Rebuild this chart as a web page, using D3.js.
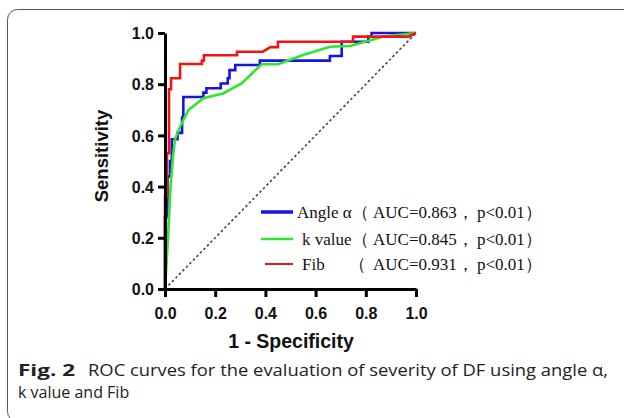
<!DOCTYPE html>
<html>
<head>
<meta charset="utf-8">
<style>
  body { margin: 0; background: #fff; }
  svg { display: block; }
  .tick-label { font-family: "Liberation Sans", Arial, sans-serif; font-weight: bold; font-size: 16px; fill: #111; }
  .axis-title { font-family: "Liberation Sans", Arial, sans-serif; font-weight: bold; fill: #111; }
  .legend text { font-family: "Liberation Serif", "Times New Roman", serif; font-size: 17px; fill: #111; }
  .caption { font-family: "Open Sans", "Noto Sans", sans-serif; font-size: 16px; fill: #222; }
</style>
</head>
<body>
<svg width="624" height="418"></svg>
<script src="https://cdn.jsdelivr.net/npm/d3@7/dist/d3.min.js"></script>
<script>
// ROC points [1 - specificity, sensitivity]
var angleRoc = [[0,0],[0,0.28],[0.01,0.28],[0.01,0.44],[0.02,0.44],[0.02,0.5],[0.027,0.5],[0.027,0.585],
  [0.05,0.585],[0.05,0.61],[0.068,0.61],[0.068,0.67],[0.073,0.67],[0.073,0.75],[0.153,0.75],[0.153,0.767],
  [0.165,0.767],[0.165,0.784],[0.222,0.784],[0.222,0.803],[0.25,0.803],[0.25,0.823],[0.257,0.823],[0.257,0.855],
  [0.28,0.855],[0.28,0.875],[0.378,0.875],[0.378,0.892],[0.657,0.892],[0.657,0.91],[0.704,0.91],[0.704,0.966],
  [0.81,0.966],[0.81,0.986],[0.823,0.986],[0.823,1],[1,1]];
var kValueRoc = [[0,0],[0.012,0.2],[0.022,0.4],[0.032,0.52],[0.04,0.585],[0.06,0.634],[0.093,0.699],
  [0.153,0.745],[0.231,0.764],[0.305,0.803],[0.385,0.878],[0.45,0.878],[0.55,0.914],[0.657,0.946],
  [0.737,0.949],[0.87,0.986],[0.988,0.999],[1,1]];
var fibRoc = [[0,0],[0,0.36],[0.008,0.36],[0.008,0.53],[0.016,0.53],[0.016,0.78],[0.024,0.78],[0.024,0.823],
  [0.06,0.823],[0.06,0.879],[0.147,0.879],[0.147,0.892],[0.155,0.892],[0.155,0.913],[0.287,0.913],[0.287,0.927],
  [0.39,0.927],[0.42,0.945],[0.45,0.945],[0.45,0.966],[0.749,0.966],[0.749,0.986],[0.97,0.986],[1,1]];
var xTicks = [0, 0.2, 0.4, 0.6, 0.8, 1.0];
var yTicks = [0, 0.2, 0.4, 0.6, 0.8, 1.0];
var seriesNames = ["Angle α", "k value", "Fib"];
var seriesAuc = ["0.863", "0.845", "0.931"];
var seriesP = ["p<0.01", "p<0.01", "p<0.01"];
var seriesColors = ["#1414e6", "#2ee62e", "#f01414"];

var svg = d3.select("svg");

// rounded frame of the figure panel
svg.append("rect")
  .attr("x", 7.5).attr("y", 9.5)
  .attr("width", 640).attr("height", 412)
  .attr("rx", 10)
  .attr("fill", "none").attr("stroke", "#555").attr("stroke-width", 1);

var x = d3.scaleLinear().domain([0, 1]).range([165, 416]);
var y = d3.scaleLinear().domain([0, 1]).range([289, 33]);

// diagonal reference
svg.append("line")
  .attr("x1", x(0)).attr("y1", y(0)).attr("x2", x(1)).attr("y2", y(1))
  .attr("stroke", "#444").attr("stroke-width", 1.6).attr("stroke-dasharray", "2.5,2.5");

var line = d3.line().x(function(d) { return x(d[0]); }).y(function(d) { return y(d[1]); });

[angleRoc, kValueRoc, fibRoc].forEach(function(data, i) {
  svg.append("path")
    .datum(data)
    .attr("d", line)
    .attr("fill", "none")
    .attr("stroke", seriesColors[i])
    .attr("stroke-width", 2.6);
});

// axes
var xAxis = svg.append("g").attr("transform", "translate(0," + y(0) + ")")
  .call(d3.axisBottom(x).tickValues(xTicks).tickSize(8).tickSizeOuter(0).tickFormat(d3.format(".1f")));
var yAxis = svg.append("g").attr("transform", "translate(" + x(0) + ",0)")
  .call(d3.axisLeft(y).tickValues(yTicks).tickSize(7).tickSizeOuter(0).tickFormat(d3.format(".1f")));

[xAxis, yAxis].forEach(function(g) {
  g.attr("font-size", null).attr("font-family", null);
  g.select(".domain").attr("stroke", "#000").attr("stroke-width", 3);
  g.selectAll(".tick line").attr("stroke", "#000").attr("stroke-width", 3);
  g.selectAll(".tick text").attr("class", "tick-label").attr("fill", null);
});
xAxis.selectAll(".tick text").attr("dy", null).attr("y", 30);
yAxis.selectAll(".tick text").attr("x", -11).attr("dy", "0.36em");

svg.append("text").attr("class", "axis-title")
  .attr("x", 291).attr("y", 348).attr("text-anchor", "middle")
  .attr("font-size", 19.5).text("1 - Specificity");
svg.append("text").attr("class", "axis-title")
  .attr("transform", "translate(108,156) rotate(-90)").attr("text-anchor", "middle")
  .attr("font-size", 18.5).text("Sensitivity");

// legend
var legend = svg.append("g").attr("class", "legend");
var legendRows = [212, 239, 264];
var legendLineX = [[261, 293], [261, 293], [265, 293]];
var legendLineW = [3.5, 2.5, 2];
var labelX = [297, 302, 302];
seriesNames.forEach(function(name, i) {
  var yy = legendRows[i];
  legend.append("line")
    .attr("x1", legendLineX[i][0]).attr("x2", legendLineX[i][1])
    .attr("y1", yy).attr("y2", yy)
    .attr("stroke", seriesColors[i]).attr("stroke-width", legendLineW[i]);
  var row = legend.append("text").attr("y", yy + 6);
  var nm = row.append("tspan").attr("x", labelX[i]).text(name);
  // full-width bracket sits right after a long label, or at the shared column
  var endX = labelX[i] + nm.node().getComputedTextLength();
  row.append("tspan").attr("x", Math.max(349, endX)).text("（");
  row.append("tspan").attr("x", 373).text("AUC=" + seriesAuc[i] + "，");
  row.append("tspan").attr("x", 477).text(seriesP[i] + "）");
});

// caption
var cap1 = svg.append("text").attr("class", "caption").attr("x", 18).attr("y", 376);
cap1.append("tspan").attr("font-weight", "bold")
  .attr("textLength", 57).attr("lengthAdjust", "spacingAndGlyphs").text("Fig. 2");
cap1.append("tspan").attr("x", 88)
  .attr("textLength", 520).attr("lengthAdjust", "spacingAndGlyphs")
  .text("ROC curves for the evaluation of severity of DF using angle α,");
svg.append("text").attr("class", "caption").attr("x", 18).attr("y", 398)
  .text("k value and Fib");
</script>
</body>
</html>
